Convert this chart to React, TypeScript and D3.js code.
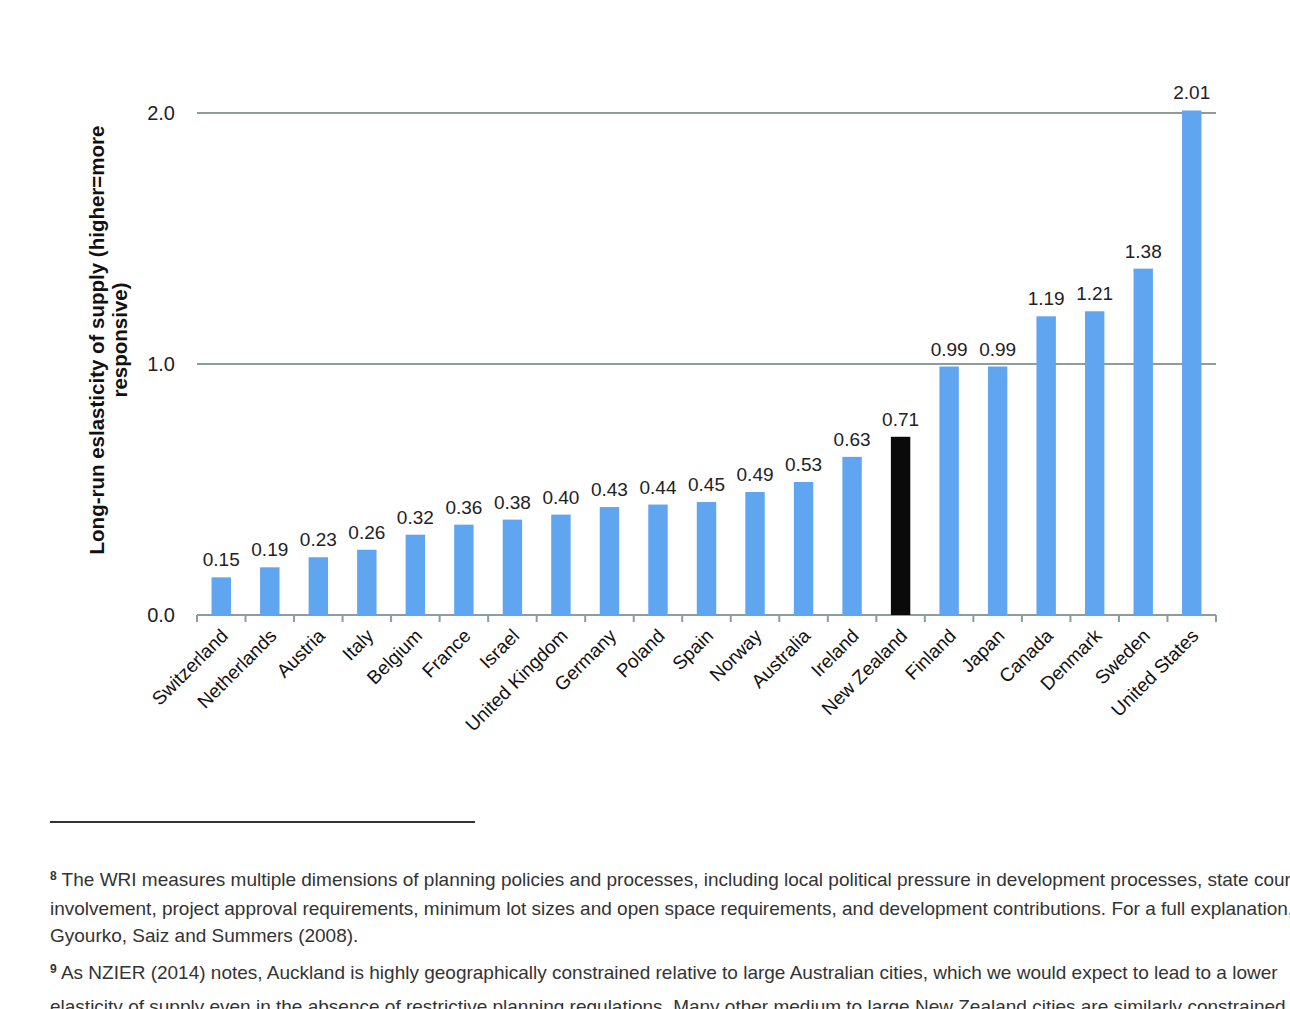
import React from 'react';
import * as d3 from 'd3';

const countries = ['Switzerland', 'Netherlands', 'Austria', 'Italy', 'Belgium', 'France', 'Israel', 'United Kingdom', 'Germany', 'Poland', 'Spain', 'Norway', 'Australia', 'Ireland', 'New Zealand', 'Finland', 'Japan', 'Canada', 'Denmark', 'Sweden', 'United States'];
const values = [0.15, 0.19, 0.23, 0.26, 0.32, 0.36, 0.38, 0.40, 0.43, 0.44, 0.45, 0.49, 0.53, 0.63, 0.71, 0.99, 0.99, 1.19, 1.21, 1.38, 2.01];
const yTicks = [0, 1, 2];
const footnotes = [
  { y: 886, sup: '8', text: ' The WRI measures multiple dimensions of planning policies and processes, including local political pressure in development processes, state court' },
  { y: 915, sup: '', text: 'involvement, project approval requirements, minimum lot sizes and open space requirements, and development contributions. For a full explanation, see' },
  { y: 942, sup: '', text: 'Gyourko, Saiz and Summers (2008).' },
  { y: 979, sup: '9', text: ' As NZIER (2014) notes, Auckland is highly geographically constrained relative to large Australian cities, which we would expect to lead to a lower' },
  { y: 1013, sup: '', text: 'elasticity of supply even in the absence of restrictive planning regulations. Many other medium to large New Zealand cities are similarly constrained.' },
];

const W = 1290, H = 1009;
const left = 197, right = 1216, top = 113, bottom = 615;

export default function App() {
  const x = d3.scaleBand<string>().domain(countries).range([left, right]).paddingInner(0.6).paddingOuter(0.3);
  const y = d3.scaleLinear().domain([0, 2]).range([bottom, top]);
  const step = (right - left) / countries.length;
  const font = '"Liberation Sans", Arial, sans-serif';
  return (
    <svg width={W} height={H} style={{ position: 'absolute', left: 0, top: 0, background: '#fff' }} fontFamily={font}>
      {yTicks.map(t => (
        <g key={t}>
          <line x1={left} x2={right} y1={y(t)} y2={y(t)} stroke="#8e9c9c" strokeWidth={2} />
          <text x={175} y={y(t)} dy="0.35em" textAnchor="end" fontSize={20} fill="#222">{t.toFixed(1)}</text>
        </g>
      ))}
      {d3.range(countries.length + 1).map(i => (
        <line key={i} x1={left + i * step} x2={left + i * step} y1={bottom} y2={bottom + 7} stroke="#8e9c9c" strokeWidth={2} />
      ))}
      {countries.map((c, i) => {
        const bx = x(c)!;
        const cx = bx + x.bandwidth() / 2;
        return (
          <g key={c}>
            <rect x={bx} y={y(values[i])} width={x.bandwidth()} height={bottom - y(values[i])} fill={c === 'New Zealand' ? '#0a0a0a' : '#5fa5f0'} />
            <text x={cx} y={y(values[i]) - 11} textAnchor="middle" fontSize={19} fill="#222">{values[i].toFixed(2)}</text>
            <text transform={`translate(${cx + 8},${bottom + 22}) rotate(-45)`} textAnchor="end" fontSize={19} fill="#111">{c}</text>
          </g>
        );
      })}
      <text transform={`translate(104,340) rotate(-90)`} textAnchor="middle" fontSize={20.5} fontWeight="bold" fill="#111">
        <tspan x={0} dy={0}>Long-run eslasticity of supply (higher=more</tspan>
        <tspan x={0} dy={23}>responsive)</tspan>
      </text>
      <line x1={50} x2={475} y1={822} y2={822} stroke="#333" strokeWidth={2} />
      {footnotes.map((f, i) => (
        <text key={i} x={50} y={f.y} fontSize={19} fill="#333" style={{ fontFamily: '"Liberation Sans Narrow", "Liberation Sans", sans-serif', fontStretch: 'condensed' }}>
          {f.sup && <tspan fontSize={12} dy={-6} fontWeight="bold">{f.sup}</tspan>}
          <tspan dy={f.sup ? 6 : 0}>{f.text}</tspan>
        </text>
      ))}
    </svg>
  );
}
